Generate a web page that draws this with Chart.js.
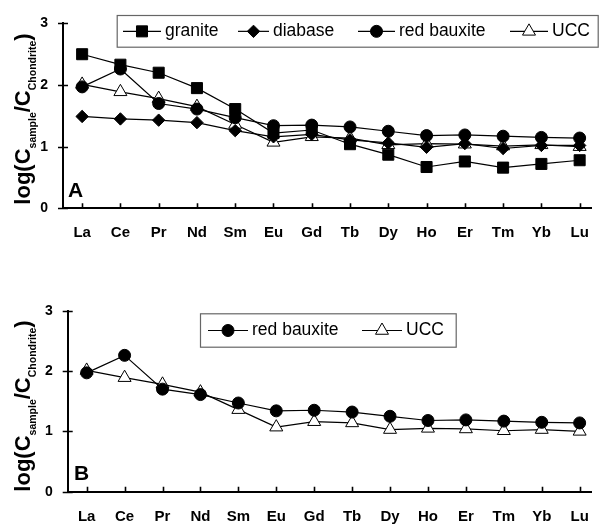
<!DOCTYPE html>
<html>
<head>
<meta charset="utf-8">
<script src="https://cdn.jsdelivr.net/npm/chart.js@4.4.1/dist/chart.umd.min.js"></script>
<style>
  html, body { margin: 0; padding: 0; background: #fff; overflow: hidden; }
  canvas { display: block; }
</style>
</head>
<body>
<canvas id="chartA" width="605" height="262"></canvas>
<canvas id="chartB" width="605" height="263"></canvas>
<script>
// rare earth elements on the x axis
const elements = ['La', 'Ce', 'Pr', 'Nd', 'Sm', 'Eu', 'Gd', 'Tb', 'Dy', 'Ho', 'Er', 'Tm', 'Yb', 'Lu'];
const yTicks = [0, 1, 2, 3];

// log(C sample / C chondrite)
const granite = [2.50, 2.33, 2.20, 1.95, 1.61, 1.22, 1.27, 1.04, 0.87, 0.67, 0.76, 0.66, 0.72, 0.78];
const diabase = [1.49, 1.45, 1.43, 1.39, 1.26, 1.16, 1.20, 1.11, 1.06, 0.99, 1.05, 0.97, 1.02, 1.02];
const redBauxite = [1.97, 2.26, 1.70, 1.61, 1.47, 1.34, 1.35, 1.32, 1.25, 1.18, 1.19, 1.17, 1.15, 1.14];
const ucc = [2.01, 1.89, 1.78, 1.65, 1.36, 1.07, 1.16, 1.14, 1.03, 1.05, 1.04, 1.01, 1.03, 1.00];

const styles = {
  granite: { pointStyle: 'rect', pointRadius: 7.8, bg: '#000' },
  diabase: { pointStyle: 'rectRot', pointRadius: 6.2, bg: '#000' },
  'red bauxite': { pointStyle: 'circle', pointRadius: 6, bg: '#000' },
  UCC: { pointStyle: 'triangle', pointRadius: 7.5, bg: '#fff' }
};

function series(label, values) {
  const s = styles[label];
  return {
    label: label,
    data: values.map((v, i) => ({ x: i, y: v })),
    borderColor: '#000',
    borderWidth: 1.2,
    backgroundColor: s.bg,
    pointStyle: s.pointStyle,
    pointRadius: s.pointRadius,
    pointHoverRadius: s.pointRadius,
    pointBackgroundColor: s.bg,
    pointBorderColor: '#000',
    pointBorderWidth: 1,
    tension: 0
  };
}

// marker shapes, same geometry as chart.js uses
function marker(ctx, style, r, x, y, fill) {
  ctx.save();
  ctx.beginPath();
  if (style === 'rect') {
    const s = Math.SQRT1_2 * r;
    ctx.rect(x - s, y - s, 2 * s, 2 * s);
  } else if (style === 'rectRot') {
    ctx.moveTo(x, y - r); ctx.lineTo(x + r, y); ctx.lineTo(x, y + r); ctx.lineTo(x - r, y); ctx.closePath();
  } else if (style === 'circle') {
    ctx.arc(x, y, r, 0, Math.PI * 2);
  } else {
    for (let k = 0; k < 3; k++) {
      const a = k * 2 * Math.PI / 3;
      const px = x + Math.sin(a) * r, py = y - Math.cos(a) * r;
      if (k === 0) ctx.moveTo(px, py); else ctx.lineTo(px, py);
    }
    ctx.closePath();
  }
  ctx.fillStyle = fill;
  ctx.fill();
  ctx.strokeStyle = '#000';
  ctx.lineWidth = 1;
  ctx.stroke();
  ctx.restore();
}

function decorations(cfg) {
  return {
    id: 'decor',
    afterDraw(chart) {
      const ctx = chart.ctx;
      const xs = chart.scales.x, ys = chart.scales.y;
      const ax = chart.chartArea.left, ay = chart.chartArea.bottom;
      ctx.save();
      ctx.strokeStyle = '#000';
      ctx.lineWidth = 1.6;
      ctx.beginPath();
      yTicks.forEach(v => {
        const py = Math.round(ys.getPixelForValue(v)) + 0.5;
        ctx.moveTo(ax - 5, py); ctx.lineTo(ax + 5, py);
      });
      elements.forEach((e, i) => {
        const px = Math.round(xs.getPixelForValue(i)) + 0.5;
        ctx.moveTo(px, ay); ctx.lineTo(px, ay - 5);
      });
      ctx.stroke();

      // panel letter
      ctx.fillStyle = '#000';
      ctx.font = 'bold 21px Arial, "Liberation Sans", sans-serif';
      ctx.textAlign = 'left';
      ctx.textBaseline = 'alphabetic';
      ctx.fillText(cfg.letter, cfg.letterX, cfg.letterY);

      // y title with subscripts
      const parts = [
        ['log(C', 22, 0], ['sample', 10.5, 6], ['/C', 22, 0], ['Chondrite', 10.5, 6], [')', 22, 0]
      ];
      let total = 0;
      parts.forEach(p => { ctx.font = 'bold ' + p[1] + 'px Arial, "Liberation Sans", sans-serif'; total += ctx.measureText(p[0]).width; });
      ctx.translate(30, cfg.titleY);
      ctx.rotate(-Math.PI / 2);
      let tx = -total / 2;
      parts.forEach(p => {
        ctx.font = 'bold ' + p[1] + 'px Arial, "Liberation Sans", sans-serif';
        ctx.fillText(p[0], tx, p[2]);
        tx += ctx.measureText(p[0]).width;
      });
      ctx.setTransform(1, 0, 0, 1, 0, 0);

      // legend
      const L = cfg.legend;
      ctx.fillStyle = '#fff';
      ctx.fillRect(L.x, L.y, L.w, L.h);
      ctx.strokeStyle = '#666';
      ctx.lineWidth = 1.2;
      ctx.strokeRect(L.x + 0.5, L.y + 0.5, L.w, L.h);
      ctx.font = '17.5px Arial, "Liberation Sans", sans-serif';
      ctx.textBaseline = 'middle';
      const cy = L.y + L.h / 2 + 0.5;
      chart.data.datasets.forEach((ds, i) => {
        const it = L.items[i];
        const sym = styles[ds.label];
        ctx.strokeStyle = '#000';
        ctx.lineWidth = 1.2;
        ctx.beginPath();
        ctx.moveTo(it.sx, cy); ctx.lineTo(it.tx - 4, cy);
        ctx.stroke();
        marker(ctx, sym.pointStyle, sym.pointRadius, (it.sx + it.tx - 4) / 2, cy, sym.bg);
        ctx.fillStyle = '#000';
        ctx.fillText(ds.label, it.tx, cy);
      });
      ctx.restore();
    }
  };
}

function makeChart(id, datasets, g, cfg) {
  return new Chart(document.getElementById(id), {
    type: 'line',
    data: { datasets: datasets },
    options: {
      responsive: false,
      animation: false,
      events: [],
      layout: { padding: { top: g.top, left: 0, right: 0, bottom: 0 } },
      plugins: { legend: { display: false }, tooltip: { enabled: false } },
      scales: {
        x: {
          type: 'linear',
          min: -0.5,
          max: 13.3,
          afterBuildTicks: s => { s.ticks = elements.map((e, i) => ({ value: i })); },
          afterFit: s => { s.height = g.xh; },
          grid: { display: false, drawTicks: false },
          border: { display: true, color: '#000', width: 2 },
          ticks: {
            autoSkip: false, maxRotation: 0, padding: 16, color: '#000',
            font: { family: 'Arial, "Liberation Sans", sans-serif', size: 15, weight: 'bold' },
            callback: v => elements[v]
          }
        },
        y: {
          min: 0,
          max: 3,
          afterBuildTicks: s => { s.ticks = yTicks.map(v => ({ value: v })); },
          afterFit: s => { s.width = g.yw; },
          grid: { display: false, drawTicks: false },
          border: { display: true, color: '#000', width: 2 },
          ticks: {
            padding: 15, color: '#000',
            font: { family: 'Arial, "Liberation Sans", sans-serif', size: 14, weight: 'bold' }
          }
        }
      }
    },
    plugins: [decorations(cfg)]
  });
}

makeChart('chartA',
  [series('granite', granite), series('diabase', diabase), series('red bauxite', redBauxite), series('UCC', ucc)],
  { top: 20.7, xh: 53.7, yw: 63 },
  {
    letter: 'A', letterX: 68, letterY: 197, titleY: 119,
    legend: { x: 116.7, y: 15, w: 481, h: 31.7,
      items: [{ sx: 123, tx: 165 }, { sx: 238, tx: 273 }, { sx: 358, tx: 399 }, { sx: 510, tx: 552 }] }
  });

makeChart('chartB',
  [series('red bauxite', redBauxite), series('UCC', ucc)],
  { top: 48.7, xh: 33.3, yw: 67.7 },
  {
    letter: 'B', letterX: 74, letterY: 218, titleY: 144,
    legend: { x: 200, y: 51.3, w: 255.7, h: 33.4,
      items: [{ sx: 208, tx: 252 }, { sx: 362, tx: 406 }] }
  });
</script>
</body>
</html>
